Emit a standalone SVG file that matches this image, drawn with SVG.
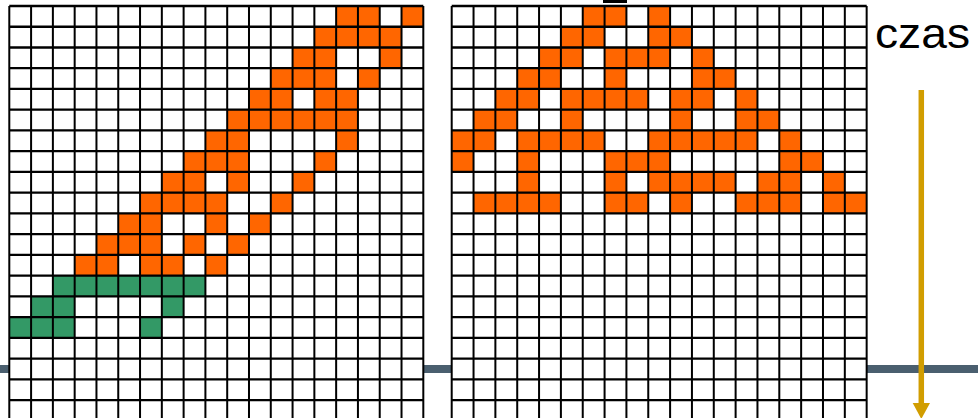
<svg xmlns="http://www.w3.org/2000/svg" width="978" height="418" viewBox="0 0 978 418">
<style>
.o{fill:#FF6600}
.g{fill:#339966}
.gl{fill:none;stroke:#000;stroke-width:2.3}
.gv{fill:none;stroke:#000;stroke-width:2}
</style>
<rect width="978" height="418" fill="#fff"/>
<rect id="bar" x="0" y="365" width="978" height="8" fill="#4A5F6F"/>
<g id="grid-left">
<rect x="9.3" y="6" width="414" height="412" fill="#fff"/>
<g transform="translate(9.3,6) scale(21.79,20.74)">
<g class="o">
<rect x="15" y="0" width="1" height="1"/><rect x="16" y="0" width="1" height="1"/><rect x="18" y="0" width="1" height="1"/>
<rect x="14" y="1" width="4" height="1"/>
<rect x="13" y="2" width="2" height="1"/><rect x="17" y="2" width="1" height="1"/>
<rect x="12" y="3" width="3" height="1"/><rect x="16" y="3" width="1" height="1"/>
<rect x="11" y="4" width="2" height="1"/><rect x="14" y="4" width="2" height="1"/>
<rect x="10" y="5" width="6" height="1"/>
<rect x="9" y="6" width="2" height="1"/><rect x="15" y="6" width="1" height="1"/>
<rect x="8" y="7" width="3" height="1"/><rect x="14" y="7" width="1" height="1"/>
<rect x="7" y="8" width="2" height="1"/><rect x="10" y="8" width="1" height="1"/><rect x="13" y="8" width="1" height="1"/>
<rect x="6" y="9" width="4" height="1"/><rect x="12" y="9" width="1" height="1"/>
<rect x="5" y="10" width="2" height="1"/><rect x="9" y="10" width="1" height="1"/><rect x="11" y="10" width="1" height="1"/>
<rect x="4" y="11" width="3" height="1"/><rect x="8" y="11" width="1" height="1"/><rect x="10" y="11" width="1" height="1"/>
<rect x="3" y="12" width="2" height="1"/><rect x="6" y="12" width="2" height="1"/><rect x="9" y="12" width="1" height="1"/>
</g>
<g class="g">
<rect x="2" y="13" width="7" height="1"/>
<rect x="1" y="14" width="2" height="1"/><rect x="7" y="14" width="1" height="1"/>
<rect x="0" y="15" width="3" height="1"/><rect x="6" y="15" width="1" height="1"/>
</g>
</g>
<path class="gl" d="M9.3 6H423.3M9.3 26.74H423.3M9.3 47.48H423.3M9.3 68.22H423.3M9.3 88.96H423.3M9.3 109.7H423.3M9.3 130.44H423.3M9.3 151.18H423.3M9.3 171.92H423.3M9.3 192.66H423.3M9.3 213.4H423.3M9.3 234.14H423.3M9.3 254.88H423.3M9.3 275.62H423.3M9.3 296.36H423.3M9.3 317.1H423.3M9.3 337.84H423.3M9.3 358.58H423.3M9.3 379.32H423.3M9.3 400.06H423.3"/>
<path class="gv" d="M9.3 6V418M31.09 6V418M52.88 6V418M74.67 6V418M96.46 6V418M118.25 6V418M140.04 6V418M161.83 6V418M183.62 6V418M205.41 6V418M227.2 6V418M248.99 6V418M270.78 6V418M292.57 6V418M314.36 6V418M336.15 6V418M357.94 6V418M379.73 6V418M401.52 6V418M423.31 6V418"/>
</g>
<g id="grid-right">
<rect x="451.7" y="6" width="415" height="412" fill="#fff"/>
<g transform="translate(451.7,6) scale(21.84,20.74)">
<g class="o">
<rect x="6" y="0" width="2" height="1"/><rect x="9" y="0" width="1" height="1"/>
<rect x="5" y="1" width="2" height="1"/><rect x="9" y="1" width="2" height="1"/>
<rect x="4" y="2" width="2" height="1"/><rect x="7" y="2" width="3" height="1"/><rect x="11" y="2" width="1" height="1"/>
<rect x="3" y="3" width="2" height="1"/><rect x="7" y="3" width="1" height="1"/><rect x="11" y="3" width="2" height="1"/>
<rect x="2" y="4" width="2" height="1"/><rect x="5" y="4" width="4" height="1"/><rect x="10" y="4" width="2" height="1"/><rect x="13" y="4" width="1" height="1"/>
<rect x="1" y="5" width="2" height="1"/><rect x="5" y="5" width="1" height="1"/><rect x="10" y="5" width="1" height="1"/><rect x="13" y="5" width="2" height="1"/>
<rect x="0" y="6" width="2" height="1"/><rect x="3" y="6" width="4" height="1"/><rect x="9" y="6" width="5" height="1"/><rect x="15" y="6" width="1" height="1"/>
<rect x="0" y="7" width="1" height="1"/><rect x="3" y="7" width="1" height="1"/><rect x="7" y="7" width="3" height="1"/><rect x="15" y="7" width="2" height="1"/>
<rect x="3" y="8" width="1" height="1"/><rect x="7" y="8" width="1" height="1"/><rect x="9" y="8" width="4" height="1"/><rect x="14" y="8" width="2" height="1"/><rect x="17" y="8" width="1" height="1"/>
<rect x="1" y="9" width="4" height="1"/><rect x="7" y="9" width="2" height="1"/><rect x="10" y="9" width="1" height="1"/><rect x="13" y="9" width="3" height="1"/><rect x="17" y="9" width="2" height="1"/>
</g>
</g>
<path class="gl" d="M451.7 6H866.7M451.7 26.74H866.7M451.7 47.48H866.7M451.7 68.22H866.7M451.7 88.96H866.7M451.7 109.7H866.7M451.7 130.44H866.7M451.7 151.18H866.7M451.7 171.92H866.7M451.7 192.66H866.7M451.7 213.4H866.7M451.7 234.14H866.7M451.7 254.88H866.7M451.7 275.62H866.7M451.7 296.36H866.7M451.7 317.1H866.7M451.7 337.84H866.7M451.7 358.58H866.7M451.7 379.32H866.7M451.7 400.06H866.7"/>
<path class="gv" d="M451.7 6V418M473.54 6V418M495.38 6V418M517.22 6V418M539.06 6V418M560.9 6V418M582.74 6V418M604.58 6V418M626.42 6V418M648.26 6V418M670.1 6V418M691.94 6V418M713.78 6V418M735.62 6V418M757.46 6V418M779.3 6V418M801.14 6V418M822.98 6V418M844.82 6V418M866.66 6V418"/>
</g>
<rect id="mark" x="603" y="0" width="24" height="3" fill="#000"/>
<g id="time-axis">
<line x1="921.3" y1="90" x2="921.3" y2="405" stroke="#D19D00" stroke-width="5.5"/>
<polygon points="912.7,403 930,403 921.3,419" fill="#D19D00"/>
</g>
<text x="875" y="48" font-family="Liberation Sans, Arial, sans-serif" font-size="42" textLength="95" lengthAdjust="spacingAndGlyphs" fill="#000">czas</text>
</svg>
